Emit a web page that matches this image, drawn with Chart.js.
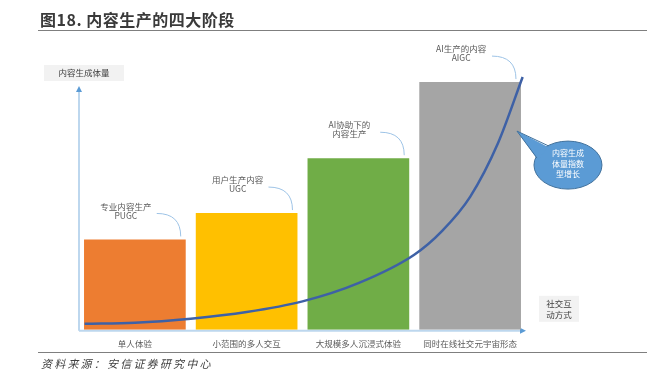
<!DOCTYPE html>
<html><head><meta charset="utf-8">
<script src="https://cdn.jsdelivr.net/npm/chart.js@4"></script>
<style>
html,body{margin:0;padding:0;background:#fff;}
#wrap{position:relative;width:647px;height:374px;overflow:hidden;}
canvas{position:absolute;left:0;top:0;}
#title{position:absolute;left:40px;top:8px;font:bold 16px "Noto Sans CJK SC";letter-spacing:0.5px;color:#3a3a3a;line-height:22px;white-space:nowrap;}
#tline{position:absolute;left:38px;top:30px;width:609px;height:0;border-top:1.5px solid #7f7f7f;}
#bline{position:absolute;left:38px;top:352px;width:609px;height:0;border-top:1.5px solid #7f7f7f;}
#src{position:absolute;left:41px;top:355px;font:italic 11px "Noto Sans CJK SC";letter-spacing:2.2px;color:#404040;line-height:16px;white-space:nowrap;}
</style></head>
<body>
<div id="wrap">
<canvas id="c" width="647" height="374"></canvas>
<div id="title">图18. 内容生产的四大阶段</div>
<div id="tline"></div>
<div id="bline"></div>
<div id="src">资料来源：安信证券研究中心</div>
</div>
<script>
const categories = ['单人体验','小范围的多人交互','大规模多人沉浸式体验','同时在线社交元宇宙形态'];
const barValues = [35.6, 46, 67.6, 97.6];
const stageLabels = [['专业内容生产','PUGC'],['用户生产内容','UGC'],['AI协助下的','内容生产'],['AI生产的内容','AIGC']];
const curveX = [0.05, 0.5, 1, 1.5, 2, 2.5, 3, 3.25, 3.5, 3.75, 3.97];
const curveY = [2.4, 2.8, 4.4, 7.0, 11.2, 18.4, 29.6, 39.0, 52.4, 73.6, 99.6];
const yAxisTitle = '内容生成体量';
const xAxisTitle = ['社交互','动方式'];
const bubbleText = ['内容生成','体量指数','型增长'];

const barColors = ['#ED7D31','#FFC000','#70AD47','#A5A5A5'];
const FONT = '"Noto Sans CJK SC", sans-serif';

const deco = {
  id:'deco',
  beforeDatasetsDraw(chart){
    const ctx = chart.ctx, a = chart.chartArea;
    ctx.save();
    ctx.strokeStyle = '#BDD7EE'; ctx.lineWidth = 2;
    ctx.beginPath();
    ctx.moveTo(a.left, a.bottom + 1); ctx.lineTo(a.left, a.top + 14);
    ctx.moveTo(a.left, a.bottom + 1); ctx.lineTo(a.right - 4, a.bottom + 1);
    ctx.stroke();
    ctx.fillStyle = '#5B9BD5';
    ctx.beginPath();
    ctx.moveTo(a.left, a.top + 10); ctx.lineTo(a.left - 3, a.top + 16); ctx.lineTo(a.left + 3, a.top + 16); ctx.closePath(); ctx.fill();
    ctx.beginPath();
    ctx.moveTo(a.right, a.bottom + 1); ctx.lineTo(a.right - 6, a.bottom - 2); ctx.lineTo(a.right - 6, a.bottom + 4); ctx.closePath(); ctx.fill();
    ctx.fillStyle = '#F2F2F2';
    ctx.fillRect(a.left - 35, a.top - 11, 80, 16);
    ctx.fillStyle = '#404040';
    ctx.font = '8.5px ' + FONT; ctx.textAlign = 'center'; ctx.textBaseline = 'middle';
    ctx.fillText(yAxisTitle, a.left + 5, a.top - 3);
    ctx.fillStyle = '#F2F2F2';
    ctx.fillRect(a.right + 13, a.bottom - 34, 40, 26);
    ctx.fillStyle = '#404040';
    ctx.fillText(xAxisTitle[0], a.right + 33, a.bottom - 26);
    ctx.fillText(xAxisTitle[1], a.right + 33, a.bottom - 15);
    ctx.restore();
  },
  afterDatasetsDraw(chart){
    const ctx = chart.ctx;
    const meta = chart.getDatasetMeta(0);
    ctx.save();
    meta.data.forEach((bar, i) => {
      const right = bar.x + bar.width / 2;
      const top = bar.y;
      ctx.fillStyle = '#595959';
      ctx.font = '8.5px ' + FONT; ctx.textAlign = 'center'; ctx.textBaseline = 'middle';
      ctx.fillText(stageLabels[i][0], bar.x - 9, top - 33);
      ctx.fillText(stageLabels[i][1], bar.x - 9, top - 24);
      ctx.strokeStyle = '#9DC3E6'; ctx.lineWidth = 1;
      ctx.beginPath();
      ctx.moveTo(right - 29, top - 26);
      ctx.quadraticCurveTo(right - 5, top - 26, right - 5, top - 3);
      ctx.stroke();
    });
    const last = meta.data[meta.data.length - 1];
    const r = last.x + last.width / 2, t = last.y;
    const cx = r + 47, cy = t + 83;
    ctx.fillStyle = '#5B9BD5'; ctx.strokeStyle = '#41719C'; ctx.lineWidth = 1;
    ctx.beginPath();
    ctx.ellipse(cx, cy, 34, 24, 0, 0, Math.PI * 2);
    ctx.fill(); ctx.stroke();
    ctx.beginPath();
    ctx.moveTo(cx - 20, cy - 18);
    ctx.lineTo(r - 4, t + 49);
    ctx.lineTo(cx - 30, cy - 5);
    ctx.closePath();
    ctx.fill();
    ctx.beginPath();
    ctx.moveTo(cx - 19.5, cy - 19.2);
    ctx.lineTo(r - 4, t + 49);
    ctx.lineTo(cx - 31, cy - 7);
    ctx.stroke();
    ctx.fillStyle = '#FFFFFF';
    ctx.font = '8px ' + FONT; ctx.textAlign = 'center'; ctx.textBaseline = 'middle';
    bubbleText.forEach((s, k) => ctx.fillText(s, cx, cy - 12 + k * 10.5));
    ctx.restore();
  }
};

new Chart(document.getElementById('c'), {
  type: 'bar',
  data: {
    labels: categories,
    datasets: [
      { type:'bar', data: barValues, backgroundColor: barColors, borderWidth: 0, grouped: false,
        barPercentage: 0.91, categoryPercentage: 1, order: 1, xAxisID:'x', yAxisID:'y' },
      { type:'line', data: curveX.map((x, i) => ({x, y: curveY[i]})), xAxisID:'x2', yAxisID:'y',
        borderColor:'#3E61A6', borderWidth: 2.5, pointRadius: 0, tension: 0.4,
        cubicInterpolationMode:'monotone', fill:false, order: 0 }
    ]
  },
  options: {
    responsive: false, animation: false, devicePixelRatio: 1,
    layout: { padding: { left: 79, right: 121, top: 76, bottom: 16 } },
    plugins: { legend: { display:false }, tooltip: { enabled:false } },
    scales: {
      x: { type:'category', offset: true, grid:{ display:false, drawTicks:false }, border:{ display:false },
           ticks:{ color:'#595959', font:{ size: 8.5, family: FONT }, padding: 9, maxRotation: 0, autoSkip:false } },
      x2: { type:'linear', display:false, min:0, max:4, offset:false, bounds:'data' },
      y: { display:false, min:0, max:100 }
    }
  },
  plugins: [deco]
});
</script>
</body></html>
